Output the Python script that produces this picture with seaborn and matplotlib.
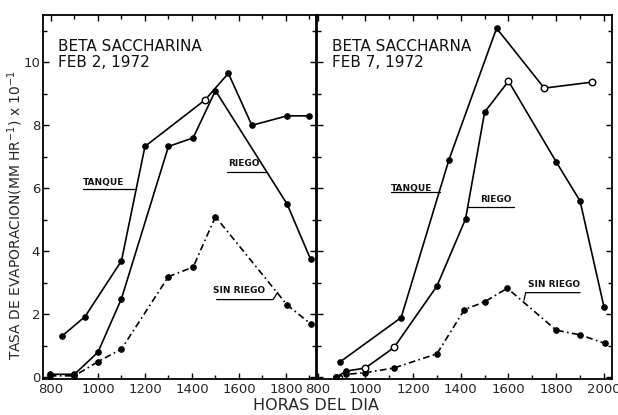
import matplotlib
matplotlib.use("Agg")
import matplotlib.pyplot as plt
import seaborn as sns
import pandas as pd
from matplotlib.ticker import MultipleLocator

sns.set_theme(style="ticks")
plt.rcParams["font.family"] = ["DejaVu Sans"]

# ---- Panel 1: BETA SACCHARINA, FEB 2, 1972 ----
p1_tanque_h = [845, 945, 1100, 1200, 1455, 1555, 1655, 1805, 1900]
p1_tanque_v = [1.3, 1.93, 3.7, 7.33, 8.8, 9.65, 8.0, 8.3, 8.3]
p1_riego_h = [795, 900, 1000, 1100, 1300, 1405, 1500, 1805, 1905]
p1_riego_v = [0.1, 0.1, 0.8, 2.5, 7.33, 7.6, 9.1, 5.5, 3.75]
p1_sin_h = [795, 900, 1000, 1100, 1300, 1405, 1500, 1805, 1905]
p1_sin_v = [0.05, 0.05, 0.5, 0.9, 3.2, 3.5, 5.1, 2.3, 1.7]
p1_open_tanque = [1455]

# ---- Panel 2: BETA SACCHARNA, FEB 7, 1972 ----
p2_tanque_h = [895, 1150, 1350, 1550, 1750, 1950]
p2_tanque_v = [0.5, 1.9, 6.9, 11.08, 9.18, 9.37]
p2_riego_h = [875, 920, 1000, 1120, 1300, 1420, 1500, 1600, 1800, 1900, 2000]
p2_riego_v = [0.0, 0.2, 0.3, 0.95, 2.9, 5.03, 8.42, 9.4, 6.84, 5.6, 2.25]
p2_sin_h = [875, 920, 1000, 1120, 1300, 1415, 1500, 1595, 1800, 1900, 2005]
p2_sin_v = [0.0, 0.1, 0.15, 0.3, 0.75, 2.15, 2.4, 2.83, 1.5, 1.35, 1.08]
p2_open_tanque = [1750, 1950]
p2_open_riego = [1000, 1120, 1600]

titles = ["BETA SACCHARINA\nFEB 2, 1972", "BETA SACCHARNA\nFEB 7, 1972"]
x_tick_labels_1 = [800, 1000, 1200, 1400, 1600, 1800]
x_tick_labels_2 = [800, 1000, 1200, 1400, 1600, 1800, 2000]
y_ticks = [0, 2, 4, 6, 8, 10]

fig = plt.figure(figsize=(6.18, 4.15), dpi=100)
bottom = 1 - 379 / 415
top = 1 - 15 / 415
h = top - bottom
ax1 = fig.add_axes([43 / 618, bottom, 273 / 618, h])
ax2 = fig.add_axes([317 / 618, bottom, 295 / 618, h])

ax1.set_xlim(766, 1928)
ax2.set_xlim(797, 2034)
for ax in (ax1, ax2):
    ax.set_ylim(-0.05, 11.5)

solid_kw = dict(color="black", linewidth=1.2, estimator=None, sort=False,
                marker="o", markersize=4, markeredgecolor="black", legend=False)


def draw(ax, hh, vv, dashed=False, open_pts=()):
    df = pd.DataFrame({"h": hh, "v": vv})
    kw = dict(solid_kw)
    if dashed:
        kw["dashes"] = False
        ln = sns.lineplot(data=df, x="h", y="v", ax=ax, **kw)
        ln.lines[-1].set_linestyle((0, (4, 2, 1, 2)))
    else:
        sns.lineplot(data=df, x="h", y="v", ax=ax, **kw)
    if open_pts:
        sub = df[df["h"].isin(open_pts)]
        sns.scatterplot(data=sub, x="h", y="v", ax=ax, s=22, facecolor="white",
                        edgecolor="black", linewidth=1.0, zorder=5, legend=False)


draw(ax1, p1_tanque_h, p1_tanque_v, open_pts=p1_open_tanque)
draw(ax1, p1_riego_h, p1_riego_v)
draw(ax1, p1_sin_h, p1_sin_v, dashed=True)
draw(ax2, p2_tanque_h, p2_tanque_v, open_pts=p2_open_tanque)
draw(ax2, p2_riego_h, p2_riego_v, open_pts=p2_open_riego)
draw(ax2, p2_sin_h, p2_sin_v, dashed=True)

for ax, xt in ((ax1, x_tick_labels_1), (ax2, x_tick_labels_2)):
    ax.set_xticks(xt)
    ax.set_xticklabels([str(t) for t in xt], fontsize=9.5)
    ax.xaxis.set_minor_locator(MultipleLocator(100))
    ax.set_yticks(y_ticks)
    ax.yaxis.set_minor_locator(MultipleLocator(1))
    ax.tick_params(which="both", direction="in", top=True, right=True,
                   color="black", width=1.0)
    ax.tick_params(which="major", length=4, pad=3)
    ax.tick_params(which="minor", length=3)
    ax.set_xlabel("")
    ax.set_ylabel("")
    for s in ax.spines.values():
        s.set_color("black")
        s.set_linewidth(1.3)

ax1.set_yticklabels([str(t) for t in y_ticks], fontsize=9.5)
ax2.set_yticklabels([])
ax1.tick_params(axis="y", pad=2)

# titles inside panels
ax1.text(0.055, 0.935, titles[0], transform=ax1.transAxes, ha="left", va="top",
         fontsize=11, linespacing=1.15, color="#111111")
ax2.text(0.05, 0.935, titles[1], transform=ax2.transAxes, ha="left", va="top",
         fontsize=11, linespacing=1.15, color="#111111")

lab_kw = dict(fontsize=6.5, fontweight="bold", color="#111111", ha="left", va="center")
line_kw = dict(color="black", linewidth=0.9)

# Left panel labels
ax1.text(936, 6.2, "TANQUE", **lab_kw)
ax1.plot([936, 1163], [5.98, 5.98], **line_kw)
ax1.text(1553, 6.8, "RIEGO", **lab_kw)
ax1.plot([1549, 1718], [6.52, 6.52], **line_kw)
ax1.text(1490, 2.75, "SIN RIEGO", **lab_kw)
ax1.plot([1505, 1745, 1765], [2.47, 2.47, 2.7], **line_kw)

# Right panel labels
ax2.text(1106, 5.98, "TANQUE", **lab_kw)
ax2.plot([1106, 1312], [5.89, 5.89], **line_kw)
ax2.text(1483, 5.66, "RIEGO", **lab_kw)
ax2.plot([1428, 1621], [5.41, 5.41], **line_kw)
ax2.text(1680, 2.94, "SIN RIEGO", **lab_kw)
ax2.plot([1665, 1672, 1900], [2.45, 2.69, 2.69], **line_kw)

fig.text(15 / 618, 1 - 215 / 415, "TASA DE EVAPORACION(MM HR$^{-1}$) x 10$^{-1}$",
         rotation=90, ha="center", va="center", fontsize=10)
fig.text(316 / 618, 1 - 405 / 415, "HORAS DEL DIA", ha="center", va="center",
         fontsize=11.5)

fig.savefig("out.png", dpi=100, facecolor="white")
